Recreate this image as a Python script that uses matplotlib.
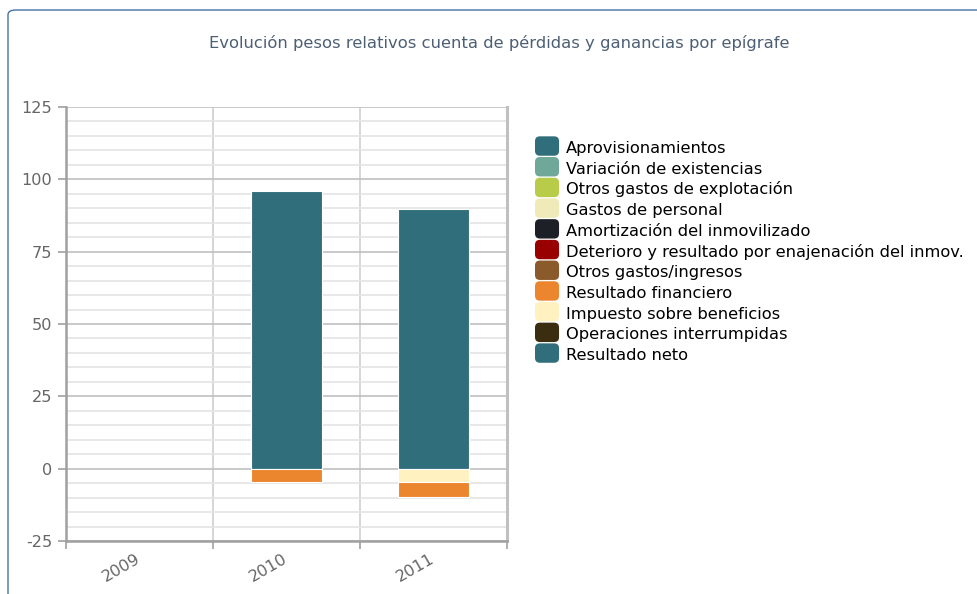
import numpy as np
import matplotlib
matplotlib.use('Agg')
import matplotlib.pyplot as plt
import matplotlib.transforms as mtransforms
from matplotlib.patches import FancyBboxPatch, Patch
from matplotlib.legend_handler import HandlerPatch

plt.rcParams['font.family'] = ['DejaVu Sans']
plt.rcParams['axes.unicode_minus'] = False

#%% data
years = ['2009', '2010', '2011']
series_names = ['Aprovisionamientos', 'Variación de existencias',
                'Otros gastos de explotación', 'Gastos de personal',
                'Amortización del inmovilizado',
                'Deterioro y resultado por enajenación del inmov.',
                'Otros gastos/ingresos', 'Resultado financiero',
                'Impuesto sobre beneficios', 'Operaciones interrumpidas',
                'Resultado neto']
aprovisionamientos = [0, 0, 0]
variacion_existencias = [0, 0, 0]
otros_gastos_explotacion = [0, 0, 0]
gastos_personal = [0, 0, 0]
amortizacion = [0, 0, 0]
deterioro = [0, 0, 0]
otros_gastos_ingresos = [0, 0, 0]
resultado_financiero = [0, -4.7, -5.4]
impuesto = [0, 0, -4.5]
operaciones_interrumpidas = [0, 0, 0]
resultado_neto = [0, 96.1, 89.9]

colors = ['#2f6e7a', '#6fa898', '#b8cc4a', '#f0eab8', '#1e2028', '#990000',
          '#8b5a2b', '#eb862e', '#fff2c0', '#3a2d10', '#2f6e7a']

values = [aprovisionamientos, variacion_existencias, otros_gastos_explotacion,
          gastos_personal, amortizacion, deterioro, otros_gastos_ingresos,
          resultado_financiero, impuesto, operaciones_interrumpidas, resultado_neto]


class RoundBoxHandler(HandlerPatch):
    def create_artists(self, legend, orig_handle, xdescent, ydescent,
                       width, height, fontsize, trans):
        # rounded colour swatch, nudged up a little
        p = FancyBboxPatch((-xdescent + 3, -ydescent + 3 + 1.2), width - 6, height - 6,
                           boxstyle='round,pad=3,rounding_size=3.5',
                           facecolor=orig_handle.get_facecolor(),
                           edgecolor='none', transform=trans)
        return [p]


#%% figure
fig = plt.figure(figsize=(9.77, 5.94), dpi=100)

# outer frame
frame = FancyBboxPatch((8 / 977, -0.2), 1.2, (594 - 10) / 594 + 0.2,
                       boxstyle='round,pad=0,rounding_size=0.008',
                       transform=fig.transFigure, facecolor='none',
                       edgecolor='#4572a7', linewidth=1.0)
fig.patches.append(frame)

fig.text(499 / 977, 1 - 43 / 594,
         'Evolución pesos relativos cuenta de pérdidas y ganancias por epígrafe',
         ha='center', va='center', fontsize=11.8, color='#4d5f75')

ax = fig.add_axes([66 / 977, 53 / 594, 441 / 977, 434 / 594])

x = np.arange(len(years))
pos_base = np.zeros(len(years))
neg_base = np.zeros(len(years))
# highcharts stacks the last series closest to zero
for name, vals, col in reversed(list(zip(series_names, values, colors))):
    vals = np.array(vals, dtype=float)
    pos = np.where(vals > 0, vals, 0)
    neg = np.where(vals < 0, vals, 0)
    for part, base in [(pos, pos_base), (neg, neg_base)]:
        m = part != 0
        if m.any():
            ax.bar(x[m], part[m], 0.48, bottom=base[m], color=col,
                   edgecolor='white', linewidth=0.8, zorder=3)
    pos_base += pos
    neg_base += neg

ax.set_xlim(-0.5, 2.5)
ax.set_ylim(-25, 125)

ax.set_yticks(np.arange(-25, 126, 25))
ax.set_yticks(np.arange(-25, 126, 5), minor=True)
ax.grid(which='minor', axis='y', color='#e4e4e4', linewidth=1.2, zorder=0)
ax.grid(which='major', axis='y', color='#c0c0c0', linewidth=1.2, zorder=1)

ax.set_xticks(x)
ax.set_xticklabels(years, rotation=30, color='#666666', fontsize=11.6,
                   ha='right', va='center', rotation_mode='anchor')
shift = mtransforms.ScaledTranslation(-6 / 100, 0, fig.dpi_scale_trans)
for lbl in ax.get_xticklabels():
    lbl.set_transform(lbl.get_transform() + shift)
ax.set_xticks([-0.5, 0.5, 1.5, 2.5], minor=True)
ax.grid(which='minor', axis='x', color='#d0d0d0', linewidth=1.2, zorder=1)
ax.tick_params(axis='x', which='major', length=0, pad=12)
ax.tick_params(axis='x', which='minor', length=6, color='#a0a0a0', width=1.2)
ax.tick_params(axis='y', which='major', length=6, color='#a0a0a0', width=1.2,
               labelcolor='#666666', labelsize=11.6, pad=4)
ax.tick_params(axis='y', which='minor', length=0)

for side in ['left', 'bottom']:
    ax.spines[side].set_color('#a0a0a0')
    ax.spines[side].set_linewidth(1.8)
ax.spines['right'].set_color('#c0c0c0')
ax.spines['right'].set_linewidth(2.2)
ax.spines['top'].set_visible(False)

handles = [Patch(facecolor=c) for c in colors]
fig.legend(handles, series_names, loc='upper left',
           bbox_to_anchor=(535 / 977, 1 - 138 / 594), frameon=False,
           fontsize=11.7, handlelength=1.48, handleheight=1.46,
           handletextpad=0.4, labelspacing=0.08, borderaxespad=0,
           borderpad=0, handler_map={Patch: RoundBoxHandler()})

fig.savefig('out.png', dpi=100)
